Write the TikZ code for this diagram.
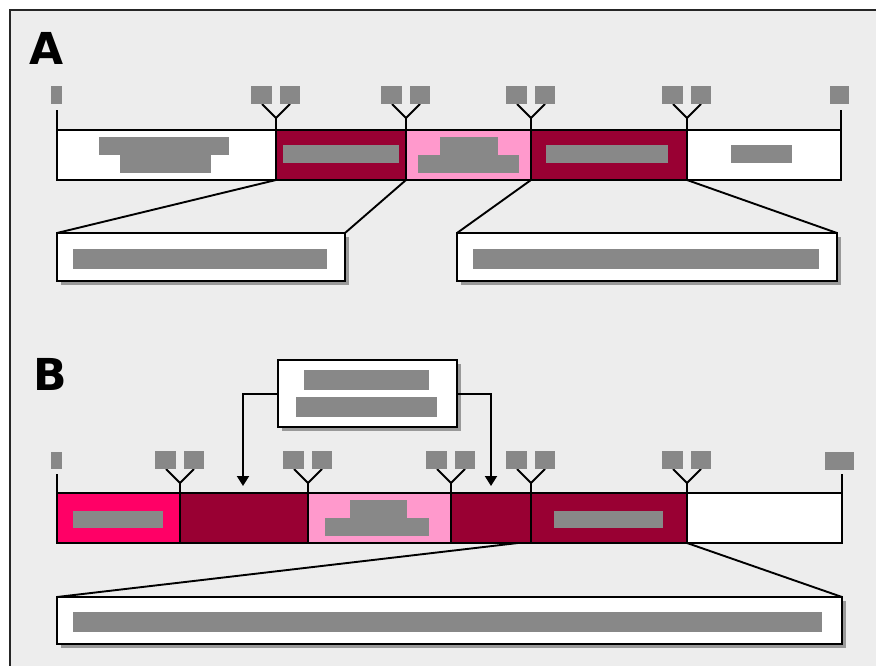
\documentclass[tikz,border=0pt]{standalone}
\usepackage{fontspec}
\setmainfont{DejaVu Sans}
\usetikzlibrary{arrows.meta,shadows}
\definecolor{bg}{HTML}{EDEDED}
\definecolor{wine}{HTML}{990033}
\definecolor{rose}{HTML}{FF99CC}
\definecolor{hot}{HTML}{FF0066}
\definecolor{blob}{HTML}{888888}
\definecolor{shade}{HTML}{999999}
% Y-shaped junction with two site squares above a bar boundary (x, bar top)
\newcommand\ymark[2]{%
  \draw[thinln] (#1,#2) -- (#1,#2-12) -- (#1-14,#2-26);
  \draw[thinln] (#1,#2-12) -- (#1+14,#2-26);
  \fill[blob] (#1-25,#2-44) rectangle (#1-4,#2-26);
  \fill[blob] (#1+4,#2-44) rectangle (#1+24,#2-26);}
\begin{document}
\begin{tikzpicture}[x=1pt,y=-1pt,
  seg/.style={draw=black, line width=2.5pt, anchor=north west, inner sep=0pt,
    outer sep=0pt, minimum height=50pt},
  panelbox/.style={draw=black, fill=white, line width=2.5pt, anchor=north west,
    inner sep=0pt, outer sep=0pt,
    drop shadow={shadow xshift=3.5pt, shadow yshift=-3.5pt, fill=shade, opacity=1}},
  thinln/.style={line width=1.9pt, black},
  link/.style={line width=1.9pt, black},
  feed/.style={line width=2pt, black, -{Triangle[width=12pt,length=10pt]}},
  panel/.style={font=\bfseries\fontsize{44}{44}\selectfont, anchor=base west, inner sep=0pt}]
\useasboundingbox (0,0) rectangle (876,666);
% frame
\draw[fill=bg, line width=2.5pt, draw=black!85] (10,10) rectangle (900,700);

% ---------------- panel A ----------------
\node[panel] (labA) at (29,65) {A};
\node[seg, fill=white, minimum width=219pt] (a1) at (57,130) {};
\node[seg, fill=wine,  minimum width=130pt] (a2) at (276,130) {};
\node[seg, fill=rose,  minimum width=125pt] (a3) at (406,130) {};
\node[seg, fill=wine,  minimum width=156pt] (a4) at (531,130) {};
\node[seg, fill=white, minimum width=154pt] (a5) at (687,130) {};
% contents of the segments
\fill[blob] (99,137) rectangle (229,155);
\fill[blob] (120,155) rectangle (211,173);
\fill[blob] (283,145) rectangle (399,163);
\fill[blob] (440,137) rectangle (498,155);
\fill[blob] (418,155) rectangle (519,173);
\fill[blob] (546,145) rectangle (668,163);
\fill[blob] (731,145) rectangle (792,163);
% end markers and junctions
\draw[thinln] (a1.north west) -- (57,110);
\fill[blob] (51,86) rectangle (62,104);
\draw[thinln] (a5.north east) -- (841,110);
\fill[blob] (830,86) rectangle (849,104);
\ymark{276}{130}
\ymark{406}{130}
\ymark{531}{130}
\ymark{687}{130}
% expanded products
\node[panelbox, minimum width=288pt, minimum height=48pt] (pa1) at (57,233) {};
\fill[blob] (73,249) rectangle (327,269);
\node[panelbox, minimum width=380pt, minimum height=48pt] (pa2) at (457,233) {};
\fill[blob] (473,249) rectangle (819,269);
\draw[link] (a1.south east) -- (pa1.north west);
\draw[link] (a2.south east) -- (pa1.north east);
\draw[link] (a3.south east) -- (pa2.north west);
\draw[link] (a4.south east) -- (pa2.north east);

% ---------------- panel B ----------------
\node[panel] (labB) at (33,390) {B};
\node[seg, fill=hot,   minimum width=123pt] (b1) at (57,493) {};
\node[seg, fill=wine,  minimum width=128pt] (b2) at (180,493) {};
\node[seg, fill=rose,  minimum width=143pt] (b3) at (308,493) {};
\node[seg, fill=wine,  minimum width=80pt]  (b4) at (451,493) {};
\node[seg, fill=wine,  minimum width=156pt] (b5) at (531,493) {};
\node[seg, fill=white, minimum width=155pt] (b6) at (687,493) {};
\fill[blob] (73,511) rectangle (163,528);
\fill[blob] (350,500) rectangle (407,518);
\fill[blob] (325,518) rectangle (429,536);
\fill[blob] (554,511) rectangle (663,528);
\draw[thinln] (b1.north west) -- (57,474);
\fill[blob] (51,452) rectangle (62,469);
\draw[thinln] (b6.north east) -- (842,474);
\fill[blob] (825,452) rectangle (854,470);
\ymark{180}{495}
\ymark{308}{495}
\ymark{451}{495}
\ymark{531}{495}
\ymark{687}{495}
% inserted element feeding two sites
\node[panelbox, minimum width=179pt, minimum height=67pt] (ins) at (278,360) {};
\fill[blob] (304,370) rectangle (429,390);
\fill[blob] (296,397) rectangle (437,417);
\coordinate (tipL) at (243,486);
\coordinate (tipR) at (491,486);
\draw[feed] (ins.west) -| (tipL);
\draw[feed] (ins.east) -| (tipR);
% expanded product
\node[panelbox, minimum width=785pt, minimum height=47pt] (pb) at (57,597) {};
\fill[blob] (73,612) rectangle (822,632);
\coordinate (cutB) at (518,543);
\draw[link] (cutB) -- (pb.north west);
\draw[link] (b5.south east) -- (pb.north east);
\end{tikzpicture}
\end{document}
